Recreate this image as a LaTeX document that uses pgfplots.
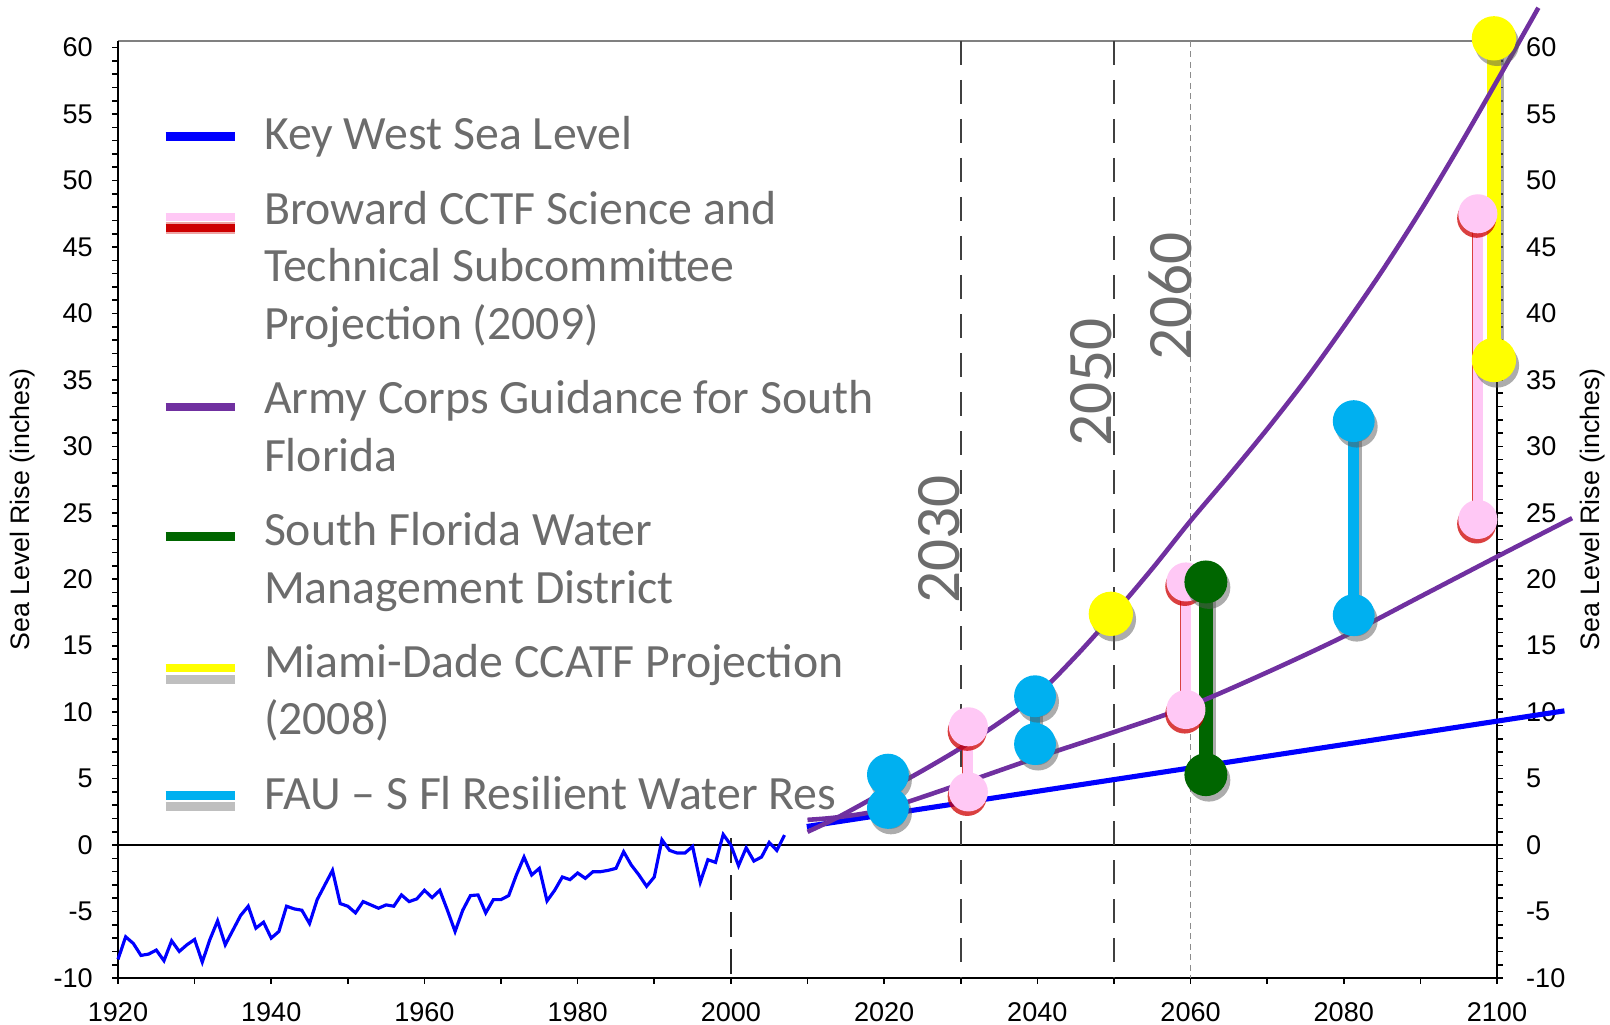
\documentclass[border=0pt]{standalone}
\usepackage{fontspec}
\setmainfont{Liberation Sans}
\newfontfamily\calibri{Carlito}
\usepackage{pgfplots}
\usepackage{pgfplotstable}
\pgfplotsset{compat=1.18}

\definecolor{kwblue}{RGB}{0,0,255}
\definecolor{acpurple}{RGB}{112,48,160}
\definecolor{fau}{RGB}{0,176,240}
\definecolor{bpink}{RGB}{255,200,245}
\definecolor{bred}{RGB}{205,0,0}
\definecolor{sfgreen}{RGB}{0,102,0}
\definecolor{mdyellow}{RGB}{255,255,0}
\definecolor{txtgray}{RGB}{108,108,108}

% Key West annual mean sea level (inches, relative)
\pgfplotstableread{
year rise
1920 -8.6
1921 -6.9
1922 -7.4
1923 -8.3
1924 -8.2
1925 -7.9
1926 -8.7
1927 -7.2
1928 -8.0
1929 -7.5
1930 -7.1
1931 -8.8
1932 -7.1
1933 -5.7
1934 -7.5
1935 -6.4
1936 -5.3
1937 -4.6
1938 -6.25
1939 -5.8
1940 -7.0
1941 -6.5
1942 -4.6
1943 -4.8
1944 -4.9
1945 -5.9
1946 -4.1
1947 -3.0
1948 -1.9
1949 -4.4
1950 -4.6
1951 -5.1
1952 -4.25
1953 -4.5
1954 -4.75
1955 -4.5
1956 -4.6
1957 -3.75
1958 -4.25
1959 -4.05
1960 -3.4
1961 -3.95
1962 -3.4
1963 -4.9
1964 -6.5
1965 -4.9
1966 -3.8
1967 -3.75
1968 -5.1
1969 -4.1
1970 -4.1
1971 -3.8
1972 -2.25
1973 -0.9
1974 -2.25
1975 -1.75
1976 -4.2
1977 -3.4
1978 -2.4
1979 -2.6
1980 -2.1
1981 -2.5
1982 -2.0
1983 -2.0
1984 -1.9
1985 -1.75
1986 -0.5
1987 -1.5
1988 -2.25
1989 -3.1
1990 -2.4
1991 0.4
1992 -0.4
1993 -0.6
1994 -0.6
1995 -0.1
1996 -2.8
1997 -1.1
1998 -1.3
1999 0.8
2000 0.0
2001 -1.55
2002 -0.2
2003 -1.2
2004 -0.9
2005 0.2
2006 -0.4
2007 0.75
}\keywest

\pgfplotsset{
  dumbbell/.style={line width=#1, mark=*, unbounded coords=jump, forget plot},
  shadowgray/.style={gray!70!black, opacity=0.5, xshift=0.03cm, yshift=-0.055cm},
  shadowred/.style={bred, opacity=0.75, xshift=-0.012cm, yshift=-0.045cm},
}

\begin{document}
\begin{tikzpicture}
% right axis and top frame
\begin{axis}[
  scale only axis, width=13.79cm, height=9.37cm,
  xmin=1920, xmax=2100, ymin=-10, ymax=60.5,
  axis x line*=top, axis y line*=right,
  x axis line style={-, gray, line width=0.6pt},
  y axis line style={-, black, line width=0.5pt},
  xtick=\empty,
  ytick={-10,-5,...,60}, minor y tick num=4,
  tick align=outside,
  major tick length=0.055cm, minor tick length=0.055cm,
  tick style={black, line width=0.45pt},
  /pgf/number format/assume math mode=true,
  tick label style={font=\fontsize{7.7}{9}\selectfont, inner sep=0pt},
  yticklabel style={anchor=west, xshift=0.23cm},
  ylabel={Sea Level Rise (inches)},
  every axis y label/.style={at={(rel axis cs:1.069,0.5)}, rotate=90,
    anchor=center, font=\fontsize{7.6}{9}\selectfont},
]
\end{axis}

\begin{axis}[
  scale only axis, width=13.79cm, height=9.37cm,
  xmin=1920, xmax=2100, ymin=-10, ymax=60.5,
  clip=false,
  axis x line*=bottom, axis y line*=left,
  axis line style={-, black, line width=0.5pt},
  xtick={1920,1940,...,2100}, minor x tick num=1,
  ytick={-10,-5,...,60}, minor y tick num=4,
  tick align=outside,
  major tick length=0.055cm, minor tick length=0.055cm,
  tick style={black, line width=0.45pt},
  /pgf/number format/assume math mode=true,
  /pgf/number format/1000 sep={},
  tick label style={font=\fontsize{7.7}{9}\selectfont, inner sep=0pt},
  xticklabel style={anchor=center, yshift=-0.29cm},
  yticklabel style={anchor=east, xshift=-0.19cm},
  ylabel={Sea Level Rise (inches)},
  every axis y label/.style={at={(rel axis cs:-0.0689,0.5)}, rotate=90,
    anchor=center, font=\fontsize{7.6}{9}\selectfont},
  legend style={at={(rel axis cs:0.030,0.927)}, anchor=north west,
    draw=none, fill=none, inner sep=0pt, outer sep=0pt,
    font=\calibri\fontsize{13.6}{16.4}\selectfont, text=txtgray,
    row sep=8.15pt, column sep=0.23cm,
    cells={anchor=north west},
    nodes={inner sep=0pt, align=left}},
]
% reference lines
\addplot[black, line width=0.5pt, forget plot] coordinates {(1920,0) (2100,0)};
\addplot[black!85, line width=0.45pt, dash pattern=on 0.25cm off 0.12cm, forget plot]
  coordinates {(2000,0.5) (2000,-10)};
\addplot[black!75, line width=0.5pt, dash pattern=on 0.24cm off 0.15cm, forget plot]
  coordinates {(2030,60.5) (2030,-10)};
\addplot[black!75, line width=0.5pt, dash pattern=on 0.24cm off 0.15cm, forget plot]
  coordinates {(2050,60.5) (2050,-10)};
\addplot[black!45, line width=0.4pt, dash pattern=on 0.06cm off 0.045cm, forget plot]
  coordinates {(2060,60.5) (2060,-10)};

% observed and extrapolated Key West
\addplot[kwblue, line width=0.9pt, forget plot] table[x=year, y=rise] {\keywest};
\addplot[kwblue, line width=1.45pt, forget plot] coordinates {(2009.9,1.4) (2108.8,10.1)};

% Miami-Dade
\addplot[dumbbell=3.8pt, shadowgray, mark size=4.4pt, mark options={draw=none, fill=gray}]
  coordinates {(2049.6,17.4) (2070,nan) (2099.6,36.5) (2099.6,60.7)};
\addplot[dumbbell=3.8pt, mdyellow, mark size=4.4pt, mark options={draw=none, fill=mdyellow}]
  coordinates {(2049.6,17.4) (2070,nan) (2099.6,36.5) (2099.6,60.7)};
% Broward
\addplot[dumbbell=2.9pt, shadowred, mark size=4.1pt, mark options={draw=none, fill=bred}]
  coordinates {(2031,4.0) (2031,8.9) (2045,nan) (2059.4,10.2) (2059.4,19.8) (2080,nan) (2097.5,24.5) (2097.5,47.5)};
\addplot[dumbbell=2.9pt, bpink, mark size=4.1pt, mark options={draw=none, fill=bpink}]
  coordinates {(2031,4.0) (2031,8.9) (2045,nan) (2059.4,10.2) (2059.4,19.8) (2080,nan) (2097.5,24.5) (2097.5,47.5)};
% SFWMD
\addplot[dumbbell=3.8pt, shadowgray, mark size=4.2pt, mark options={draw=none, fill=gray}]
  coordinates {(2062,5.3) (2062,19.8)};
\addplot[dumbbell=3.8pt, sfgreen, mark size=4.2pt, mark options={draw=none, fill=sfgreen}]
  coordinates {(2062,5.3) (2062,19.8)};
% FAU
\addplot[dumbbell=3.1pt, shadowgray, mark size=4.4pt, mark options={draw=none, fill=gray}]
  coordinates {(2020.5,2.8) (2020.5,5.3) (2030,nan) (2039.7,7.6) (2039.7,11.2) (2060,nan) (2081.3,17.3) (2081.3,31.9)};
\addplot[dumbbell=3.1pt, fau, mark size=4.4pt, mark options={draw=none, fill=fau}]
  coordinates {(2020.5,2.8) (2020.5,5.3) (2030,nan) (2039.7,7.6) (2039.7,11.2) (2060,nan) (2081.3,17.3) (2081.3,31.9)};

% Army Corps curves
\addplot[acpurple, line width=1.3pt, smooth, forget plot] coordinates {
  (2010,1.0) (2014,2.1) (2020,4.0) (2025,5.6) (2030,7.3) (2035,9.2) (2040,11.3)
  (2045,14.2) (2050,17.4) (2055,20.8) (2060,24.4) (2065,27.8) (2070,31.3)
  (2075,35.0) (2080,39.0) (2085,43.2) (2090,47.7) (2095,52.5) (2100,57.5) (2105.4,63.0)};
\addplot[acpurple, line width=1.3pt, smooth, forget plot] coordinates {
  (2010,1.9) (2014,2.1) (2020,2.7) (2030,4.6) (2040,6.6) (2050,8.5) (2060,10.5)
  (2070,13.0) (2080,15.7) (2090,18.7) (2100,21.7) (2109.8,24.6)};

% year labels
\node[font=\calibri\fontsize{18}{20}\selectfont, text=txtgray, rotate=90,
  anchor=base west, inner sep=0pt] at (axis cs:2029.8,18.1) {2030};
\node[font=\calibri\fontsize{18}{20}\selectfont, text=txtgray, rotate=90,
  anchor=base west, inner sep=0pt] at (axis cs:2049.7,29.9) {2050};
\node[font=\calibri\fontsize{18}{20}\selectfont, text=txtgray, rotate=90,
  anchor=base west, inner sep=0pt] at (axis cs:2060.1,36.4) {2060};

% legend
\addlegendimage{legend image code/.code={
  \draw[kwblue, line width=2.6pt] (0cm,-7.6pt) -- (0.69cm,-7.6pt);}}
\addlegendentry{\strut Key West Sea Level}
\addlegendimage{legend image code/.code={
  \draw[bred, opacity=0.35, line width=3.6pt] (0cm,-12.6pt) -- (0.69cm,-12.6pt);
  \draw[bred, line width=2.1pt] (0cm,-12.6pt) -- (0.69cm,-12.6pt);
  \draw[bpink, line width=2.3pt] (0cm,-9.5pt) -- (0.69cm,-9.5pt);}}
\addlegendentry{\strut Broward CCTF Science and\\\strut Technical Subcommittee\\\strut Projection (2009)}
\addlegendimage{legend image code/.code={
  \draw[acpurple, line width=2.4pt] (0cm,-9.6pt) -- (0.69cm,-9.6pt);}}
\addlegendentry{\strut Army Corps Guidance for South\\\strut Florida}
\addlegendimage{legend image code/.code={
  \draw[sfgreen, line width=2.4pt] (0cm,-8.9pt) -- (0.69cm,-8.9pt);}}
\addlegendentry{\strut South Florida Water\\\strut Management District}
\addlegendimage{legend image code/.code={
  \draw[gray, opacity=0.5, line width=2.6pt] (0cm,-12pt) -- (0.69cm,-12pt);
  \draw[mdyellow, line width=2.4pt] (0cm,-8.8pt) -- (0.69cm,-8.8pt);}}
\addlegendentry{\strut Miami-Dade CCATF Projection\\\strut (2008)}
\addlegendimage{legend image code/.code={
  \draw[gray, opacity=0.5, line width=2.6pt] (0cm,-10.6pt) -- (0.69cm,-10.6pt);
  \draw[fau, line width=2.4pt] (0cm,-7.6pt) -- (0.69cm,-7.6pt);}}
\addlegendentry{\strut FAU – S Fl Resilient Water Res}
\end{axis}
\pgfresetboundingbox
\useasboundingbox (-1.18cm,-0.46cm) rectangle (14.92cm,9.78cm);
\end{tikzpicture}
\end{document}
